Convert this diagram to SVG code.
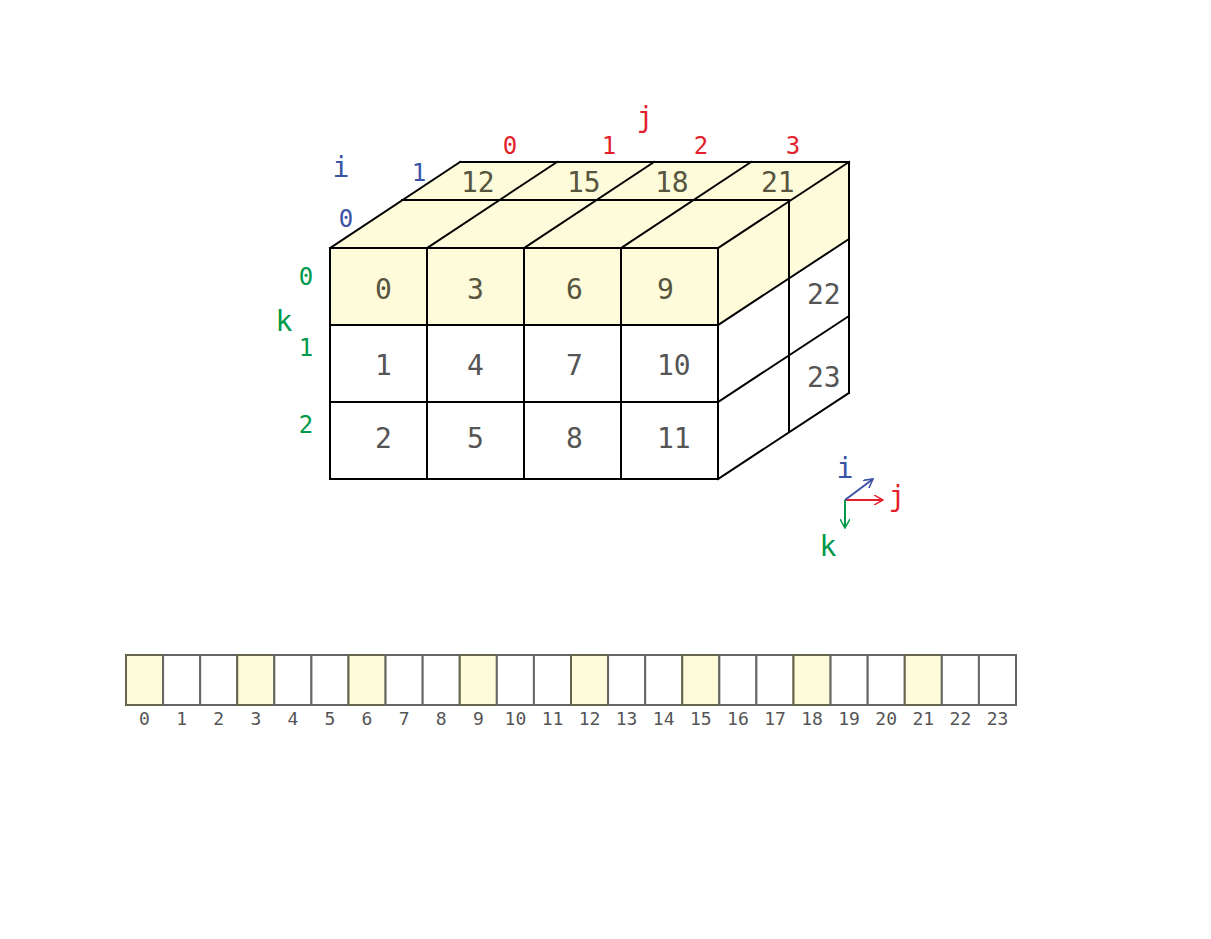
<svg xmlns="http://www.w3.org/2000/svg" width="1211" height="939" viewBox="0 0 1211 939">
<defs>
<style>
.y{fill:#fdfbd9}
.ln{stroke:#000;stroke-width:2;fill:none;stroke-linecap:square}
.num{font-family:"DejaVu Sans Mono","Liberation Mono",monospace;font-size:28px;fill:#555}
.numy{font-family:"DejaVu Sans Mono","Liberation Mono",monospace;font-size:28px;fill:#57553f}
.ax{font-family:"DejaVu Sans Mono","Liberation Mono",monospace;text-anchor:middle}
.r{fill:#e31f2d}.b{fill:#3b53a4}.g{fill:#00994a}
.cell{stroke:#666;stroke-width:2;fill:#fff}
.celly{stroke:#66644a;stroke-width:2;fill:#fdfbd9}
.lab{font-family:"DejaVu Sans Mono","Liberation Mono",monospace;font-size:18px;fill:#555;text-anchor:middle}
</style>
<marker id="arR" viewBox="0 0 10 10" refX="9" refY="5" markerWidth="10" markerHeight="10" markerUnits="userSpaceOnUse" orient="auto"><path d="M0,0 L9,5 L0,10" fill="none" stroke="#e31f2d" stroke-width="1.5"/></marker>
<marker id="arB" viewBox="0 0 10 10" refX="9" refY="5" markerWidth="10" markerHeight="10" markerUnits="userSpaceOnUse" orient="auto"><path d="M0,0 L9,5 L0,10" fill="none" stroke="#3b53a4" stroke-width="1.5"/></marker>
<marker id="arG" viewBox="0 0 10 10" refX="9" refY="5" markerWidth="10" markerHeight="10" markerUnits="userSpaceOnUse" orient="auto"><path d="M0,0 L9,5 L0,10" fill="none" stroke="#00994a" stroke-width="1.5"/></marker>
</defs>
<rect width="1211" height="939" fill="#fff"/>

<g id="cube">
<polygon class="y" points="330,248 460,162 849,162 718,248"/>
<polygon class="y" points="330,248 718,248 718,325 330,325"/>
<polygon class="y" points="718,248 849,162 849,239 718,325"/>
<path class="ln" d="M330,248H718M330,325H718M330,402H718M330,479H718M330,248V479M427,248V479M524,248V479M621,248V479M718,248V479"/>
<path class="ln" d="M330,248L460,162M427,248L557,162M524,248L654,162M621,248L751,162M718,248L849,162M402,200H789M460,162H849"/>
<path class="ln" d="M789,200V432M849,162V393M718,325L849,239M718,402L849,316M718,479L849,393"/>
</g>

<g id="cube-numbers">
<text class="numy" x="375" y="299">0</text>
<text class="numy" x="467" y="299">3</text>
<text class="numy" x="566" y="299">6</text>
<text class="numy" x="657" y="299">9</text>
<text class="num" x="375" y="375">1</text>
<text class="num" x="467" y="375">4</text>
<text class="num" x="566" y="375">7</text>
<text class="num" x="657" y="375">10</text>
<text class="num" x="375" y="448">2</text>
<text class="num" x="467" y="448">5</text>
<text class="num" x="566" y="448">8</text>
<text class="num" x="657" y="448">11</text>
<text class="numy" x="461" y="192">12</text>
<text class="numy" x="567" y="192">15</text>
<text class="numy" x="655" y="192">18</text>
<text class="numy" x="761" y="192">21</text>
<text class="num" x="807" y="304">22</text>
<text class="num" x="807" y="387">23</text>
</g>

<g id="axis-labels">
<text class="ax r" x="645" y="127" font-size="28">j</text>
<text class="ax r" x="510" y="154" font-size="24">0</text>
<text class="ax r" x="609" y="154" font-size="24">1</text>
<text class="ax r" x="701" y="154" font-size="24">2</text>
<text class="ax r" x="793" y="154" font-size="24">3</text>
<text class="ax b" x="341" y="177" font-size="28">i</text>
<text class="ax b" x="419" y="181" font-size="24">1</text>
<text class="ax b" x="346" y="227" font-size="24">0</text>
<text class="ax g" x="284" y="331" font-size="28">k</text>
<text class="ax g" x="306" y="285" font-size="24">0</text>
<text class="ax g" x="306" y="356" font-size="24">1</text>
<text class="ax g" x="306" y="433" font-size="24">2</text>
</g>

<g id="connectors">
<line x1="845" y1="500" x2="883" y2="500" stroke="#e31f2d" stroke-width="2" marker-end="url(#arR)"/>
<line x1="845" y1="500" x2="873" y2="479" stroke="#3b53a4" stroke-width="2" marker-end="url(#arB)"/>
<line x1="845" y1="500" x2="845" y2="528" stroke="#00994a" stroke-width="2" marker-end="url(#arG)"/>
</g>
<g id="axis-legend">
<text class="ax b" x="845" y="478" font-size="28">i</text>
<text class="ax r" x="897" y="506" font-size="28">j</text>
<text class="ax g" x="828" y="556" font-size="28">k</text>
</g>

<g id="strip">
<rect class="celly" x="126" y="655" width="37.08" height="50"/>
<rect class="cell" x="163.08" y="655" width="37.08" height="50"/>
<rect class="cell" x="200.17" y="655" width="37.08" height="50"/>
<rect class="celly" x="237.25" y="655" width="37.08" height="50"/>
<rect class="cell" x="274.33" y="655" width="37.08" height="50"/>
<rect class="cell" x="311.42" y="655" width="37.08" height="50"/>
<rect class="celly" x="348.5" y="655" width="37.08" height="50"/>
<rect class="cell" x="385.58" y="655" width="37.08" height="50"/>
<rect class="cell" x="422.67" y="655" width="37.08" height="50"/>
<rect class="celly" x="459.75" y="655" width="37.08" height="50"/>
<rect class="cell" x="496.83" y="655" width="37.08" height="50"/>
<rect class="cell" x="533.92" y="655" width="37.08" height="50"/>
<rect class="celly" x="571" y="655" width="37.08" height="50"/>
<rect class="cell" x="608.08" y="655" width="37.08" height="50"/>
<rect class="cell" x="645.17" y="655" width="37.08" height="50"/>
<rect class="celly" x="682.25" y="655" width="37.08" height="50"/>
<rect class="cell" x="719.33" y="655" width="37.08" height="50"/>
<rect class="cell" x="756.42" y="655" width="37.08" height="50"/>
<rect class="celly" x="793.5" y="655" width="37.08" height="50"/>
<rect class="cell" x="830.58" y="655" width="37.08" height="50"/>
<rect class="cell" x="867.67" y="655" width="37.08" height="50"/>
<rect class="celly" x="904.75" y="655" width="37.08" height="50"/>
<rect class="cell" x="941.83" y="655" width="37.08" height="50"/>
<rect class="cell" x="978.92" y="655" width="37.08" height="50"/>
</g>
<g id="strip-labels">
<text class="lab" x="144.5" y="725">0</text>
<text class="lab" x="181.6" y="725">1</text>
<text class="lab" x="218.7" y="725">2</text>
<text class="lab" x="255.8" y="725">3</text>
<text class="lab" x="292.9" y="725">4</text>
<text class="lab" x="330" y="725">5</text>
<text class="lab" x="367" y="725">6</text>
<text class="lab" x="404.1" y="725">7</text>
<text class="lab" x="441.2" y="725">8</text>
<text class="lab" x="478.3" y="725">9</text>
<text class="lab" x="515.4" y="725">10</text>
<text class="lab" x="552.5" y="725">11</text>
<text class="lab" x="589.5" y="725">12</text>
<text class="lab" x="626.6" y="725">13</text>
<text class="lab" x="663.7" y="725">14</text>
<text class="lab" x="700.8" y="725">15</text>
<text class="lab" x="737.9" y="725">16</text>
<text class="lab" x="775" y="725">17</text>
<text class="lab" x="812" y="725">18</text>
<text class="lab" x="849.1" y="725">19</text>
<text class="lab" x="886.2" y="725">20</text>
<text class="lab" x="923.3" y="725">21</text>
<text class="lab" x="960.4" y="725">22</text>
<text class="lab" x="997.5" y="725">23</text>
</g>
</svg>
